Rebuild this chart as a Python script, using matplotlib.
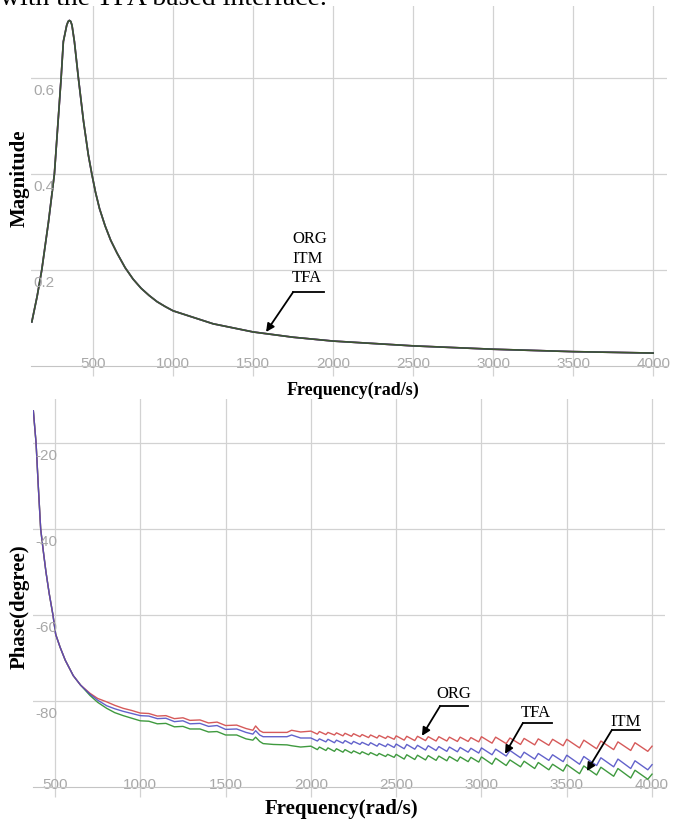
import matplotlib

matplotlib.use("Agg")
import matplotlib.pyplot as plt
from matplotlib import font_manager
from matplotlib.transforms import offset_copy

# magnitude response: ORG, ITM and TFA lie on top of each other here
mag_freq = [117, 150, 179, 221, 258, 300, 314, 335, 344, 352, 360, 368, 383, 408, 440,
            470, 492, 515, 540, 575, 610, 650, 700, 750, 800, 850, 900, 950, 1000, 1250,
            1500, 1750, 2000, 2500, 3000, 3500, 4000]
mag_org = [0.092, 0.145, 0.20, 0.30, 0.40, 0.60, 0.676, 0.71, 0.718, 0.72, 0.718, 0.71,
           0.676, 0.60, 0.51, 0.44, 0.40, 0.362, 0.328, 0.292, 0.262, 0.235, 0.205, 0.181,
           0.162, 0.147, 0.134, 0.124, 0.115, 0.088, 0.071, 0.060, 0.052, 0.042, 0.035,
           0.030, 0.027]
mag_itm = list(mag_org)
mag_tfa = list(mag_org)

# phase response
phase_freq = [373, 389, 402, 416, 431, 447, 466, 488, 504, 530, 560, 607, 650, 705, 750,
              803, 850, 900, 950, 1000,
              1050, 1100, 1150, 1200, 1250, 1291, 1350, 1400, 1450, 1500, 1565, 1620, 1660,
              1676, 1700, 1720, 1780, 1860, 1887, 1940,
              2000, 2038, 2050, 2088, 2100, 2138, 2150, 2188, 2200, 2238, 2250, 2288, 2300,
              2338, 2350, 2388, 2400, 2438, 2450, 2488,
              2500, 2547, 2562, 2609, 2625, 2672, 2688, 2734, 2750, 2797, 2812, 2859, 2875,
              2922, 2938, 2984,
              3000, 3062, 3083, 3145, 3167, 3229, 3250, 3312, 3333, 3395, 3417, 3479,
              3500, 3575, 3600, 3675, 3700, 3775, 3800, 3875, 3900, 3975, 4000]
phase_org = [-12.5, -20, -30, -40, -45, -50, -55, -60, -64.5, -67.5, -70.5, -74.1, -76.3,
             -78.2, -79.4, -80.2, -81.0, -81.7, -82.2, -82.8,
             -82.9, -83.5, -83.4, -84.1, -83.9, -84.5, -84.4, -85.1, -84.9, -85.7, -85.6,
             -86.4, -86.8, -85.8, -86.9, -87.3, -87.3, -87.3, -86.8, -87.2,
             -87.0, -87.7, -87.1, -87.8, -87.3, -87.9, -87.4, -88.1, -87.5, -88.2, -87.6,
             -88.3, -87.8, -88.5, -87.9, -88.6, -88.0, -88.7, -88.2, -88.9,
             -88.1, -89.1, -88.2, -89.2, -88.2, -89.2, -88.3, -89.3, -88.3, -89.3, -88.4,
             -89.4, -88.4, -89.4, -88.5, -89.5,
             -88.3, -89.8, -88.4, -89.9, -88.6, -90.1, -88.7, -90.2, -88.8, -90.3, -88.9,
             -90.4,
             -88.9, -90.9, -89.1, -91.1, -89.3, -91.3, -89.5, -91.5, -89.7, -91.7, -90.5]
phase_tfa = [-12.5, -20, -30, -40, -45, -50, -55, -60, -64.5, -67.5, -70.5, -74.1, -76.3,
             -78.4, -79.8, -81.1, -81.8, -82.4, -82.9, -83.4,
             -83.5, -84.1, -84.0, -84.8, -84.6, -85.3, -85.2, -85.9, -85.7, -86.6, -86.5,
             -87.3, -87.7, -86.9, -87.9, -88.3, -88.3, -88.3, -87.9, -88.6,
             -88.6, -89.3, -88.8, -89.5, -88.9, -89.7, -89.1, -89.8, -89.2, -90.0, -89.4,
             -90.1, -89.6, -90.3, -89.7, -90.5, -89.9, -90.6, -90.0, -90.8,
             -90.0, -91.1, -90.1, -91.2, -90.3, -91.4, -90.4, -91.5, -90.6, -91.7, -90.7,
             -91.8, -90.8, -91.9, -91.0, -92.1,
             -90.9, -92.5, -91.2, -92.8, -91.5, -93.2, -91.9, -93.5, -92.2, -93.8, -92.5,
             -94.1,
             -92.6, -94.7, -92.9, -95.0, -93.2, -95.3, -93.5, -95.7, -93.9, -96.0, -94.8]
phase_itm = [-12.5, -20, -30, -40, -45, -50, -55, -60, -64.5, -67.5, -70.5, -74.1, -76.3,
             -78.7, -80.3, -81.7, -82.7, -83.4, -84.0, -84.6,
             -84.7, -85.3, -85.2, -86.0, -85.9, -86.5, -86.5, -87.2, -87.1, -87.9, -87.9,
             -88.8, -89.1, -88.4, -89.4, -89.9, -90.1, -90.2, -90.4, -90.7,
             -90.5, -91.3, -90.7, -91.5, -90.9, -91.7, -91.1, -91.9, -91.3, -92.1, -91.6,
             -92.3, -91.8, -92.5, -92.0, -92.7, -92.2, -92.9, -92.4, -93.1,
             -92.4, -93.5, -92.5, -93.6, -92.6, -93.7, -92.7, -93.8, -92.8, -93.9, -92.9,
             -94.0, -93.0, -94.1, -93.1, -94.2,
             -93.0, -94.7, -93.3, -95.0, -93.7, -95.3, -94.0, -95.7, -94.3, -96.0, -94.7,
             -96.3,
             -94.8, -96.9, -95.1, -97.2, -95.4, -97.5, -95.7, -97.9, -96.1, -98.2, -97.0]

freq_ticks = [500, 1000, 1500, 2000, 2500, 3000, 3500, 4000]
mag_ticks = [0.2, 0.4, 0.6]
phase_ticks = [-20, -40, -60, -80]

RED, BLUE, GREEN = "#d65a5a", "#4747c2", "#3f9a3f"
GRID = "#d2d2d2"
TICK_TXT = "#a8a8a8"
SERIF = ["Liberation Serif", "DejaVu Serif"]
_names = {f.name for f in font_manager.fontManager.ttflist}
NARROW = ["Liberation Sans Narrow"] if "Liberation Sans Narrow" in _names else ["Liberation Sans"]


def style_axes(ax, yticks, ylabels):
    for side in ("left", "right", "top"):
        ax.spines[side].set_visible(False)
    ax.spines["bottom"].set_color("#c4c4c4")
    ax.set_xticks(freq_ticks)
    ax.set_xticklabels([str(t) for t in freq_ticks], fontfamily=NARROW)
    ax.tick_params(axis="x", length=7, width=0.9, color=GRID, labelcolor=TICK_TXT,
                   labelsize=11, pad=-14)
    ax.set_yticks(yticks)
    ax.tick_params(axis="y", length=0, labelleft=False)
    ax.grid(True, color=GRID, linewidth=0.9)
    ax.set_axisbelow(True)
    trans = offset_copy(ax.get_yaxis_transform(), fig=ax.figure, x=2, y=-5, units="dots")
    for v, lab in zip(yticks, ylabels):
        ax.text(0, v, lab, transform=trans, ha="left", va="top", fontsize=11,
                color=TICK_TXT, family=NARROW)


fig = plt.figure(figsize=(6.79, 8.20), dpi=100)

# line of body text above the figure, cropped by the top edge as in the source
fig.text(0.0, 1 - 5 / 820, "with the TFA based interface.", fontsize=20, family=SERIF,
         va="baseline", ha="left")

# magnitude plot
ax1 = fig.add_axes([0.0457, 0.5524, 0.9367, 0.439])
ax1.plot(mag_freq, mag_org, color=RED, lw=1.2)
ax1.plot(mag_freq, mag_tfa, color=BLUE, lw=1.2)
ax1.plot(mag_freq, mag_itm, color="#3d5530", lw=1.2)
ax1.set_xlim(112, 4087)
ax1.set_ylim(0, 0.75)
style_axes(ax1, mag_ticks, ["0.2", "0.4", "0.6"])

ax1.text(1744, 0.267, "ORG", fontsize=12, family=SERIF, ha="left", va="center")
ax1.text(1744, 0.225, "ITM", fontsize=12, family=SERIF, ha="left", va="center")
ax1.text(1744, 0.185, "TFA", fontsize=12, family=SERIF, ha="left", va="center")
ax1.plot([1750, 1944], [0.154, 0.154], color="black", lw=1.3)
ax1.annotate("", xy=(1581, 0.071), xytext=(1750, 0.154),
             arrowprops=dict(arrowstyle="-|>", color="black", lw=1.3, mutation_scale=12,
                             shrinkA=0, shrinkB=0))

# phase plot
ax2 = fig.add_axes([0.0486, 0.039, 0.9308, 0.473])
ax2.plot(phase_freq, phase_itm, color=GREEN, lw=1.0)
ax2.plot(phase_freq, phase_org, color=RED, lw=1.0)
ax2.plot(phase_freq, phase_tfa, color=BLUE, lw=1.0, alpha=0.85)
ax2.set_xlim(371, 4076)
ax2.set_ylim(-100, -9.8)
style_axes(ax2, phase_ticks, ["-20", "-40", "-60", "-80"])

for label, (tx, ty), (x0, x1, uy), (ax_, ay_) in [
    ("ORG", (2839, -78.1), (2757, 2921, -81.2), (2651, -88.1)),
    ("TFA", (3319, -82.6), (3243, 3413, -85.1), (3138, -92.3)),
    ("ITM", (3847, -84.7), (3765, 3929, -86.7), (3618, -96.3)),
]:
    ax2.text(tx, ty, label, fontsize=12, family=SERIF, ha="center", va="center")
    ax2.plot([x0, x1], [uy, uy], color="black", lw=1.3)
    ax2.annotate("", xy=(ax_, ay_), xytext=(x0, uy),
                 arrowprops=dict(arrowstyle="-|>", color="black", lw=1.3,
                                 mutation_scale=12, shrinkA=0, shrinkB=0))

# axis titles
fig.text(19.5 / 679, 1 - 178.5 / 820, "Magnitude", rotation=90, fontsize=15,
         fontweight="bold", family=SERIF, ha="center", va="center")
fig.text(353 / 679, 1 - 390 / 820, "Frequency(rad/s)", fontsize=13, fontweight="bold",
         family=SERIF, ha="center", va="center")
fig.text(20 / 679, 1 - 607 / 820, "Phase(degree)", rotation=90, fontsize=15,
         fontweight="bold", family=SERIF, ha="center", va="center")
fig.text(341 / 679, 1 - 809 / 820, "Frequency(rad/s)", fontsize=15, fontweight="bold",
         family=SERIF, ha="center", va="center")

fig.savefig("out.png", dpi=100)
plt.close(fig)
